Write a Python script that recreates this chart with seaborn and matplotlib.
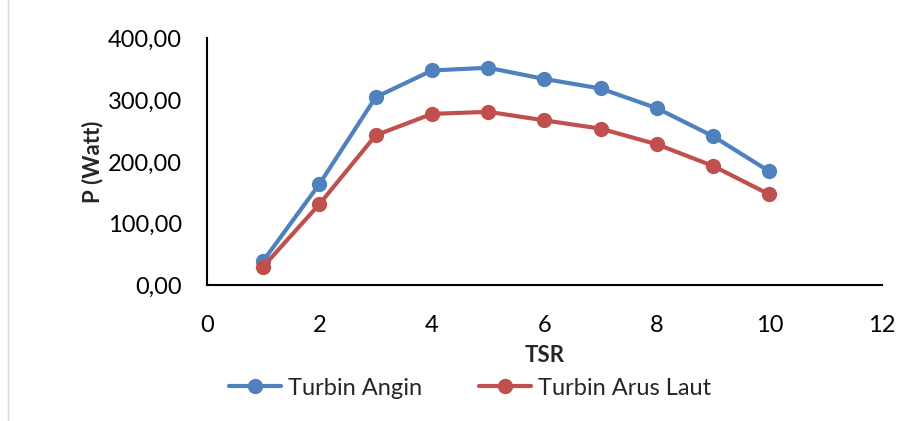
import matplotlib
matplotlib.use("Agg")
import matplotlib.pyplot as plt
from matplotlib.ticker import FuncFormatter, MultipleLocator
from matplotlib.lines import Line2D
import seaborn as sns
import pandas as pd

tsr = [1, 2, 3, 4, 5, 6, 7, 8, 9, 10]
turbin_angin = [39.8, 164.3, 304.9, 348.2, 352.6, 334.4, 319.0, 287.0, 241.6, 184.7]
turbin_arus_laut = [30.5, 131.8, 243.2, 277.9, 281.2, 267.4, 254.0, 228.6, 193.5, 147.4]
series_names = ["Turbin Angin", "Turbin Arus Laut"]
colors = ["#4F81BD", "#C0504D"]

df = pd.DataFrame({
    "TSR": tsr * 2,
    "P": turbin_angin + turbin_arus_laut,
    "series": [series_names[0]] * len(tsr) + [series_names[1]] * len(tsr),
})

sns.set_theme(style="white")
plt.rcParams["font.family"] = ["Lato", "DejaVu Sans"]

fig = plt.figure(figsize=(9.17, 4.21), dpi=100)
ax = fig.add_axes([0.2257, 0.3219, 0.736, 0.5867])

sns.lineplot(data=df, x="TSR", y="P", hue="series", palette=colors,
             marker="o", markersize=11, linewidth=3, markeredgewidth=0,
             ax=ax, legend=False)

ax.set_xlim(0, 12)
ax.set_ylim(0, 400)
ax.xaxis.set_major_locator(MultipleLocator(2))
ax.yaxis.set_major_locator(MultipleLocator(100))
ax.yaxis.set_major_formatter(FuncFormatter(lambda v, p: f"{v:.2f}".replace(".", ",")))
ax.tick_params(axis="both", length=0, labelsize=17, colors="black")
ax.tick_params(axis="y", pad=18)
ax.tick_params(axis="x", pad=21)
for s in ["top", "right"]:
    ax.spines[s].set_visible(False)
for s in ["left", "bottom"]:
    ax.spines[s].set_color("black")
    ax.spines[s].set_linewidth(1.5)
ax.grid(False)

ax.set_xlabel("TSR", fontsize=16, fontweight="bold", labelpad=7)
ax.set_ylabel("P (Watt)", fontsize=16, fontweight="bold", labelpad=3)

handles = [Line2D([0], [0], color=c, marker="o", markersize=11, linewidth=3,
                  markeredgewidth=0) for c in colors]
fig.legend(handles, series_names, loc="center", bbox_to_anchor=(0.513, 0.078),
           ncol=2, frameon=False, fontsize=17, handlelength=2.2,
           handletextpad=0.3, columnspacing=2.4)

fig.add_artist(Line2D([0.009, 0.009], [0, 1], color="#d9d9d9", linewidth=1,
                      transform=fig.transFigure))

fig.savefig("out.png", dpi=100)
